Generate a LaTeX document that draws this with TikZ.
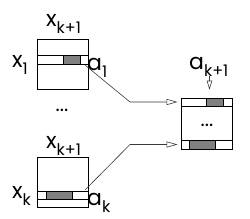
\documentclass[tikz,border=0pt]{standalone}
\usepackage{fontspec}
\setmainfont{Poppins}
\usetikzlibrary{arrows.meta,positioning,calc}
\definecolor{pgray}{HTML}{808080}
\definecolor{pline}{HTML}{3A3A3A}
\newcommand{\lsub}[1]{\raisebox{-0.33em}{\fontsize{16}{16}\selectfont #1}}
\tikzset{
  % outer box and the row strips inside it
  cell/.style  = {rectangle, draw=black, line width=0.8pt, minimum width=51pt,
                  minimum height=50pt, inner sep=0pt},
  strip/.style = {rectangle, draw=black, line width=0.7pt, minimum width=51pt,
                  minimum height=#1, inner sep=0pt},
  blob/.style  = {rectangle, draw=black, fill=pgray, line width=0.6pt, inner sep=0pt},
  lbl/.style   = {font=\fontsize{22}{22}\selectfont, inner sep=0pt, anchor=base west},
  dots/.style  = {font=\fontsize{20}{20}\selectfont, inner sep=0pt},
  link/.style  = {-{Triangle[open,length=11pt,width=6pt]}, pline, line width=0.6pt,
                  shorten >=3pt},
}
\begin{document}
\begin{tikzpicture}[x=1pt,y=-1pt]
\useasboundingbox (0,0) rectangle (250,218);
% first box
\node[cell] (box1) at (62.5,64) {};
\node[strip=9pt] (row1) at (62.5,59.5) {};
\node[blob, minimum width=17pt, minimum height=9pt] (val1) at (71.5,59.5) {};
\node[lbl] (xk1a) at (46,26) {x\lsub{k+1}};
\node[lbl] (x1) at (12,67) {x\lsub{1}};
\node[lbl] (a1) at (87,70) {a\lsub{1}};
\node[dots] (vdots) at (62,110) {...};
% last box
\node[cell] (boxk) at (62.5,182) {};
\node[strip=8pt] (rowk) at (62.5,195) {};
\node[blob, minimum width=26pt, minimum height=8pt] (valk) at (59,195) {};
\node[lbl] (xk1b) at (46,148) {x\lsub{k+1}};
\node[lbl] (xk) at (12,198) {x\lsub{k}};
\node[lbl] (ak) at (87,205) {a\lsub{k}};
% merged box
\node[cell, minimum height=51pt] (boxm) at (206.5,123.5) {};
\node[strip=8pt] (rowt) at (206.5,102) {};
\node[blob, minimum width=17pt, minimum height=8pt] (valt) at (214.5,102) {};
\node[strip=9pt] (rowb) at (206.5,144.5) {};
\node[blob, minimum width=26pt, minimum height=9pt] (valb) at (202,144.5) {};
\node[dots] (mdots) at (207,125) {...};
\node[lbl] (ak1) at (189,69.5) {a\lsub{k+1}};
% connectors
\coordinate (bend1) at (130,102);
\coordinate (bendk) at (130,144.5);
\coordinate (aktop) at (209.5,76);
\draw[link] ($(row1.south east)+(-3,1)$) -- (bend1) -- (rowt.west);
\draw[link] ($(rowk.north east)+(-3,-1)$) -- (bendk) -- (rowb.west);
\draw[link, -{Triangle[open,length=9pt,width=5.5pt]}, shorten >=8pt]
  (aktop) -- (aktop |- rowt.north);
\end{tikzpicture}
\end{document}
